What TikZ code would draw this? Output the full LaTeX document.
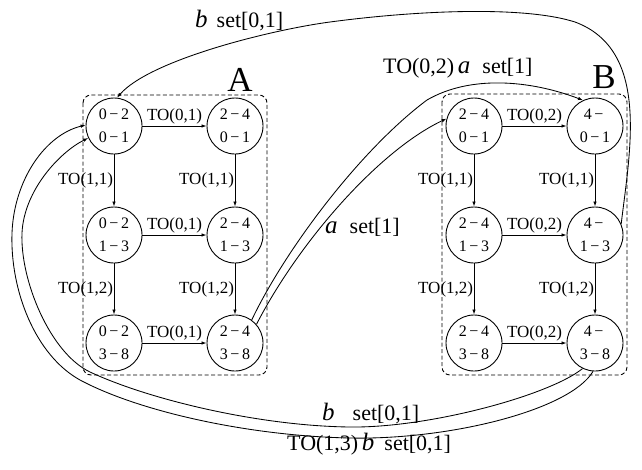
\documentclass[tikz,border=0pt]{standalone}
\usepackage{fontspec}
\setmainfont{Liberation Serif}
\usetikzlibrary{arrows.meta}
\newcommand\mns{\,\char"2212\,}
\newcommand\iv[1]{{\fontsize{25}{25}\selectfont\textit{#1}}}
\begin{document}
\begin{tikzpicture}[x=1pt,y=-1pt,
 state/.style={circle,draw,line width=0.9pt,minimum size=56pt,inner sep=0pt,align=center,font=\fontsize{16}{23}\selectfont},
 tr/.style={-{Latex[length=5pt,width=3.5pt]},line width=0.85pt},
 hl/.style={font=\fontsize{17}{17}\selectfont,above,inner sep=1pt},
 vl/.style={font=\fontsize{17}{17}\selectfont,anchor=east,inner sep=0.5pt},
 grp/.style={dash pattern=on 4pt off 2.5pt,line width=0.9pt,rounded corners=8pt},
 big/.style={font=\fontsize{35}{35}\selectfont,inner sep=0pt},
 cl/.style={font=\fontsize{22}{22}\selectfont,inner sep=0pt,anchor=base west}
]
\useasboundingbox (0,0) rectangle (642,469);
% group boxes
\draw[grp] (83,95) rectangle (267,375);
\draw[grp] (442,94) rectangle (627,375);
\node[big] (labA) at (240,80) {A};
\node[big] (labB) at (604,77) {B};
% states of A
\node[state] (A11) at (114,126) {0\mns2\\0\mns1};
\node[state] (A12) at (235,126) {2\mns4\\0\mns1};
\node[state] (A21) at (114,235) {0\mns2\\1\mns3};
\node[state] (A22) at (235,235) {2\mns4\\1\mns3};
\node[state] (A31) at (114,343) {0\mns2\\3\mns8};
\node[state] (A32) at (235,343) {2\mns4\\3\mns8};
% states of B
\node[state] (B11) at (474,126) {2\mns4\\0\mns1};
\node[state] (B12) at (595,126) {4\mns\\0\mns1};
\node[state] (B21) at (474,235) {2\mns4\\1\mns3};
\node[state] (B22) at (595,235) {4\mns\\1\mns3};
\node[state] (B31) at (474,343) {2\mns4\\3\mns8};
\node[state] (B32) at (595,343) {4\mns\\3\mns8};
% transitions in A
\draw[tr] (A11) -- node[hl]{TO(0,1)} (A12);
\draw[tr] (A21) -- node[hl]{TO(0,1)} (A22);
\draw[tr] (A31) -- node[hl]{TO(0,1)} (A32);
\draw[tr] (A11) -- node[vl]{TO(1,1)} (A21);
\draw[tr] (A12) -- node[vl]{TO(1,1)} (A22);
\draw[tr] (A21) -- node[vl]{TO(1,2)} (A31);
\draw[tr] (A22) -- node[vl]{TO(1,2)} (A32);
% transitions in B
\draw[tr] (B11) -- node[hl]{TO(0,2)} (B12);
\draw[tr] (B21) -- node[hl]{TO(0,2)} (B22);
\draw[tr] (B31) -- node[hl]{TO(0,2)} (B32);
\draw[tr] (B11) -- node[vl]{TO(1,1)} (B21);
\draw[tr] (B12) -- node[vl]{TO(1,1)} (B22);
\draw[tr] (B21) -- node[vl]{TO(1,2)} (B31);
\draw[tr] (B22) -- node[vl]{TO(1,2)} (B32);
% long connectors
\draw[tr] (B22.23) .. controls (630,150) and (650,50) .. (575,22)
  .. controls (525,6) and (420,10) .. (330,22)
  .. controls (270,30) and (150,60) .. (A11.84);
\draw[tr] (A32.54) .. controls (285,250) and (360,150) .. (427,100)
  .. controls (470,75) and (530,80) .. (B12.115);
\draw[tr] (A32.41) .. controls (300,240) and (380,150) .. (B11.165);
\draw[tr] (B32.244) .. controls (550,395) and (430,428) .. (350,427)
  .. controls (260,426) and (150,400) .. (90,372)
  .. controls (50,353) and (20,280) .. (22,233)
  .. controls (24,190) and (60,152) .. (A11.205);
\draw[tr] (B32.266) .. controls (570,410) and (450,440) .. (350,438)
  .. controls (250,436) and (140,412) .. (80,380)
  .. controls (35,355) and (10,290) .. (12,233)
  .. controls (14,180) and (45,135) .. (A11.178);
% connector labels
\node[cl] (l1) at (195,27) {\iv{b}\hspace{9pt}set[0,1]};
\node[cl] (l2) at (383,73) {TO(0,2)\,\iv{a}\hspace{12pt}set[1]};
\node[cl] (l3) at (325,233) {\iv{a}\hspace{12pt}set[1]};
\node[cl] (l4) at (322,420) {\iv{b}\hspace{18pt}set[0,1]};
\node[cl] (l5) at (287,450) {TO(1,3)\,\iv{b}\hspace{10pt}set[0,1]};
\end{tikzpicture}
\end{document}
